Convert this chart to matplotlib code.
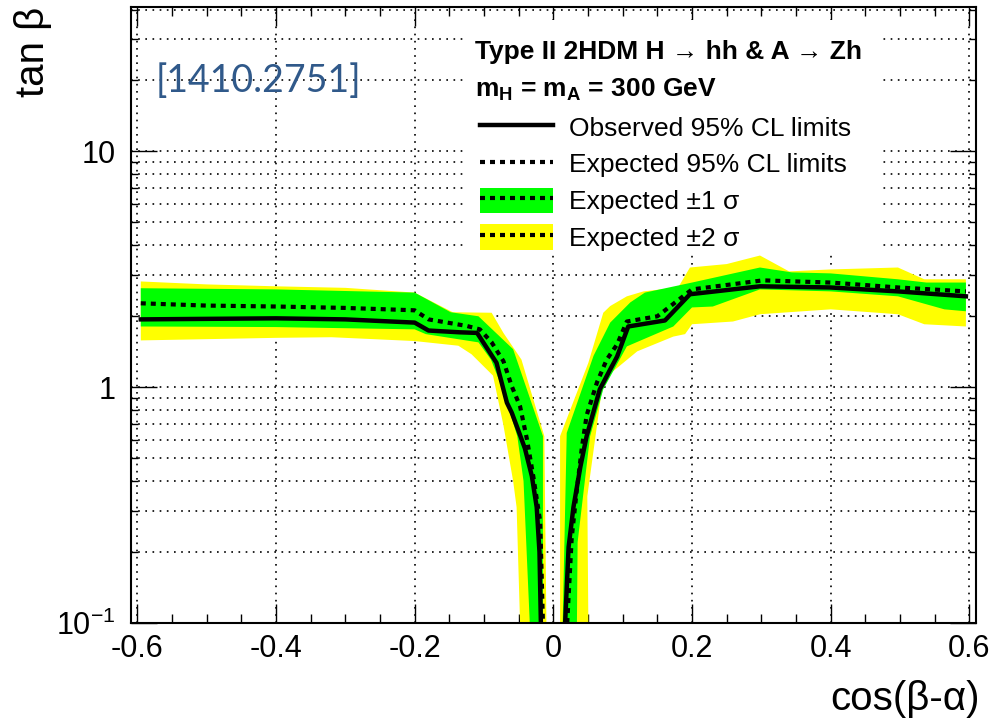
import numpy as np
import matplotlib
matplotlib.use('Agg')
import matplotlib.pyplot as plt
from matplotlib.lines import Line2D
from matplotlib.patches import Patch, Rectangle
from matplotlib.ticker import LogLocator, NullFormatter

plt.rcParams['font.family'] = ['Liberation Sans', 'DejaVu Sans']
plt.rcParams['mathtext.fontset'] = 'custom'
plt.rcParams['mathtext.rm'] = 'Liberation Sans'
plt.rcParams['mathtext.bf'] = 'Liberation Sans:bold'

# --- negative cos(b-a) branch ---
obs_l_x = [-0.595, -0.5, -0.4, -0.3, -0.2, -0.18, -0.135, -0.11, -0.082, -0.067, -0.060, -0.050, -0.041, -0.031, -0.024, -0.020, -0.018]
obs_l_y = [1.94, 1.95, 1.96, 1.94, 1.88, 1.74, 1.71, 1.70, 1.27, 0.86, 0.78, 0.65, 0.55, 0.42, 0.31, 0.20, 0.10]
exp_l_x = [-0.595, -0.5, -0.4, -0.3, -0.2, -0.18, -0.125, -0.106, -0.089, -0.072, -0.060, -0.048, -0.038, -0.029, -0.019, -0.017, -0.015]
exp_l_y = [2.27, 2.22, 2.2, 2.17, 2.12, 1.94, 1.82, 1.76, 1.55, 1.29, 1.01, 0.83, 0.60, 0.42, 0.27, 0.165, 0.10]
s1_l_hi_x = [-0.595, -0.4, -0.2, -0.148, -0.108, -0.058, -0.015, -0.015]
s1_l_hi_y = [2.63, 2.6, 2.52, 2.08, 2.0, 1.45, 0.62, 0.10]
s1_l_lo_x = [-0.595, -0.4, -0.2, -0.184, -0.108, -0.09, -0.073, -0.052, -0.043, -0.034]
s1_l_lo_y = [1.81, 1.8, 1.76, 1.68, 1.55, 1.31, 0.98, 0.62, 0.40, 0.10]
s2_l_hi_x = [-0.595, -0.5, -0.4, -0.3, -0.2, -0.145, -0.089, -0.072, -0.046, -0.013, -0.010]
s2_l_hi_y = [2.81, 2.73, 2.68, 2.64, 2.52, 2.08, 2.07, 1.70, 1.31, 0.62, 0.10]
s2_l_lo_x = [-0.595, -0.4, -0.32, -0.2, -0.137, -0.118, -0.087, -0.072, -0.058, -0.053, -0.048]
s2_l_lo_y = [1.58, 1.62, 1.63, 1.57, 1.50, 1.38, 1.12, 0.69, 0.40, 0.31, 0.10]

# --- positive cos(b-a) branch ---
obs_r_x = [0.017, 0.022, 0.029, 0.039, 0.048, 0.067, 0.082, 0.092, 0.108, 0.161, 0.197, 0.298, 0.399, 0.497, 0.595]
obs_r_y = [0.10, 0.21, 0.31, 0.46, 0.62, 0.98, 1.19, 1.35, 1.81, 1.92, 2.48, 2.68, 2.65, 2.55, 2.43]
exp_r_x = [0.020, 0.0265, 0.034, 0.041, 0.048, 0.063, 0.077, 0.092, 0.106, 0.15, 0.2, 0.302, 0.4, 0.497, 0.595]
exp_r_y = [0.10, 0.23, 0.37, 0.55, 0.76, 1.05, 1.31, 1.52, 1.9, 2.0, 2.6, 2.84, 2.78, 2.65, 2.55]
s1_r_hi_x = [0.0135, 0.0193, 0.058, 0.082, 0.111, 0.132, 0.2, 0.298, 0.344, 0.4, 0.497, 0.538, 0.595]
s1_r_hi_y = [0.10, 0.64, 1.36, 1.88, 2.29, 2.52, 2.78, 3.22, 3.07, 3.04, 2.87, 2.78, 2.78]
s1_r_lo_x = [0.034, 0.035, 0.053, 0.072, 0.106, 0.173, 0.2, 0.23, 0.298, 0.4, 0.497, 0.564, 0.595]
s1_r_lo_y = [0.10, 0.22, 0.62, 0.98, 1.49, 1.81, 2.18, 2.2, 2.6, 2.55, 2.43, 2.14, 2.1]
s2_r_hi_x = [0.0097, 0.0097, 0.0505, 0.072, 0.082, 0.106, 0.13, 0.18, 0.197, 0.25, 0.298, 0.34, 0.4, 0.497, 0.535, 0.595]
s2_r_hi_y = [0.10, 0.62, 1.27, 2.07, 2.21, 2.43, 2.55, 2.65, 3.22, 3.33, 3.62, 3.1, 3.16, 3.22, 2.87, 2.87]
s2_r_lo_x = [0.0505, 0.049, 0.072, 0.121, 0.173, 0.19, 0.2, 0.259, 0.298, 0.4, 0.497, 0.535, 0.595]
s2_r_lo_y = [0.10, 0.345, 1.08, 1.42, 1.64, 1.68, 1.85, 1.9, 2.04, 2.14, 2.04, 1.85, 1.81]

x_ticks = [-0.6, -0.4, -0.2, 0, 0.2, 0.4, 0.6]
x_ticklabels = ['-0.6', '-0.4', '-0.2', '0', '0.2', '0.4', '0.6']
y_ticks = [0.1, 1, 10]
y_ticklabels = ['10$^{-1}$', '1', '10']
legend_labels = ['Observed 95% CL limits', 'Expected 95% CL limits',
                 'Expected \u00b11 \u03c3', 'Expected \u00b12 \u03c3']

GREEN = '#00ff00'
YELLOW = '#ffff00'
DOTS = (0, (1.2, 1.2))
GRID_LS = (0, (1, 3.3))


def band(ax, hx, hy, lx, ly, color):
    xs = np.concatenate([hx, lx[::-1]])
    ys = np.concatenate([hy, ly[::-1]])
    ax.fill(xs, ys, color=color, lw=0, zorder=1)


fig = plt.figure(figsize=(9.99, 7.21), dpi=100)
ax = fig.add_axes([0.1308, 0.1359, 0.8462, 0.8544])
ax.set_yscale('log')

band(ax, s2_l_hi_x, s2_l_hi_y, s2_l_lo_x, s2_l_lo_y, YELLOW)
band(ax, s2_r_hi_x, s2_r_hi_y, s2_r_lo_x, s2_r_lo_y, YELLOW)
band(ax, s1_l_hi_x, s1_l_hi_y, s1_l_lo_x, s1_l_lo_y, GREEN)
band(ax, s1_r_hi_x, s1_r_hi_y, s1_r_lo_x, s1_r_lo_y, GREEN)

ax.plot(exp_l_x, exp_l_y, color='k', lw=3, ls=DOTS, zorder=3)
ax.plot(exp_r_x, exp_r_y, color='k', lw=3, ls=DOTS, zorder=3)
ax.plot(obs_l_x, obs_l_y, color='k', lw=3.2, zorder=4)
ax.plot(obs_r_x, obs_r_y, color='k', lw=3.2, zorder=4)

ax.set_xlim(-0.6096, 0.6096)
ax.set_ylim(0.1, 41)

ax.set_xticks(x_ticks)
ax.set_xticklabels(x_ticklabels)
ax.set_xticks(np.arange(-0.6, 0.601, 0.05), minor=True)
ax.set_yticks(y_ticks)
ax.set_yticklabels(y_ticklabels)
ax.yaxis.set_minor_locator(LogLocator(base=10, subs=np.arange(2, 10)))
ax.yaxis.set_minor_formatter(NullFormatter())

ax.tick_params(which='both', direction='in', top=True, right=True, width=1, labelsize=22)
ax.tick_params(axis='x', which='major', length=14, pad=8)
ax.tick_params(axis='x', which='minor', length=6.5)
ax.tick_params(axis='y', which='major', length=18.5, pad=11)
ax.tick_params(axis='y', which='minor', length=5)
for sp in ax.spines.values():
    sp.set_linewidth(1.5)

ax.set_axisbelow(True)
ax.grid(True, axis='y', which='both', color='k', lw=1.2, ls=GRID_LS)
ax.grid(True, axis='x', which='major', color='k', lw=1.2, ls=GRID_LS)

ax.set_ylabel('tan \u03b2', fontsize=29, loc='top')
ax.yaxis.set_label_coords(-0.093, 1.0)
ax.set_xlabel('cos(\u03b2-\u03b1)', fontsize=29, loc='right')
ax.xaxis.set_label_coords(1.005, -0.092)

# white legend pad hiding the grid behind the text block
ax.add_patch(Rectangle((0.393, 0.602), 0.491, 0.377, transform=ax.transAxes,
                       facecolor='white', edgecolor='none', zorder=5))

ax.text(0.407, 0.915, 'Type II 2HDM H \u2192 hh & A \u2192 Zh', transform=ax.transAxes,
        fontsize=19, fontweight='bold', va='baseline', ha='left', zorder=6)
ax.text(0.407, 0.855, r'm$_{\mathbf{H}}$ = m$_{\mathbf{A}}$ = 300 GeV', transform=ax.transAxes,
        fontsize=19, fontweight='bold', va='baseline', ha='left', zorder=6)

ax.text(0.030, 0.880, '[1410.2751]', transform=ax.transAxes, fontsize=27,
        family=['Lato', 'DejaVu Sans'], color='#30598a', va='center', ha='left')

h_obs = Line2D([], [], color='k', lw=3.2)
h_exp = Line2D([], [], color='k', lw=3, ls=DOTS)
h_1s = (Patch(facecolor=GREEN, edgecolor='none'), Line2D([], [], color='k', lw=3, ls=DOTS))
h_2s = (Patch(facecolor=YELLOW, edgecolor='none'), Line2D([], [], color='k', lw=3, ls=DOTS))
leg = ax.legend([h_obs, h_exp, h_1s, h_2s], legend_labels, loc='upper left',
                bbox_to_anchor=(0.413, 0.826), frameon=False, fontsize=19,
                handlelength=2.77, handletextpad=0.6, labelspacing=0.38,
                handleheight=1.1, borderpad=0, borderaxespad=0)
leg.set_zorder(6)

fig.savefig('out.png', dpi=100)
